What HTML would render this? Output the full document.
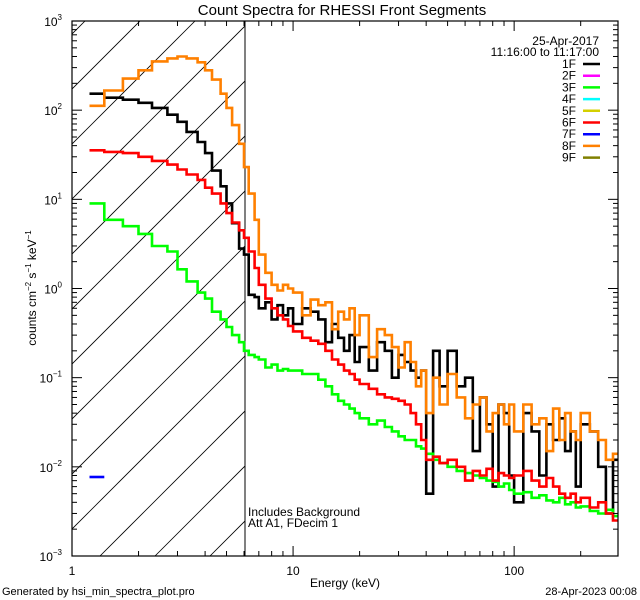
<!DOCTYPE html>
<html><head><meta charset="utf-8"><style>
html,body{margin:0;padding:0;background:#fff;width:640px;height:600px;overflow:hidden}
svg text{font-family:"Liberation Sans",sans-serif;fill:#000}
</style></head><body>
<svg id="chart" width="640" height="600" xmlns="http://www.w3.org/2000/svg">
<text x="342" y="15" font-size="15" text-anchor="middle">Count Spectra for RHESSI Front Segments</text>
<defs><clipPath id="pc"><rect x="72" y="21" width="546" height="535"/></clipPath>
<clipPath id="hc"><rect x="72" y="21" width="173" height="535"/></clipPath></defs>
<g id="hatch" clip-path="url(#hc)"></g>
<line x1="245" y1="21" x2="245" y2="556" stroke="#000" stroke-width="1"/>
<g id="series" clip-path="url(#pc)"></g>
<rect x="72" y="21" width="546" height="535" fill="none" stroke="#000" stroke-width="1.2"/>
<g id="axes"></g>
<text x="345" y="587" font-size="12" text-anchor="middle">Energy (keV)</text>
<text transform="translate(36,288) rotate(-90)" font-size="12" text-anchor="middle">counts cm<tspan font-size="8" dy="-5">−2</tspan><tspan dy="5"> s</tspan><tspan font-size="8" dy="-5">−1</tspan><tspan dy="5"> keV</tspan><tspan font-size="8" dy="-5">−1</tspan></text>
<text x="248" y="516" font-size="12">Includes Background</text>
<text x="248" y="527" font-size="12">Att A1, FDecim 1</text>
<text x="599" y="45" font-size="12" text-anchor="end">25-Apr-2017</text>
<text x="599" y="56" font-size="12" text-anchor="end">11:16:00 to 11:17:00</text>
<g id="legend"></g>
<text x="2" y="595" font-size="11">Generated by hsi_min_spectra_plot.pro</text>
<text x="637" y="595" font-size="11" text-anchor="end">28-Apr-2023 00:08</text>
</svg>
<script>
const energyEdges=[1.2,1.4,1.7,2.0,2.3,2.7,3.0,3.3,3.7,4.0,4.3,4.7,5.0,5.3,5.7,6.0,6.3,6.7,7.0,7.5,8,8.5,9,9.5,10,11,12,13,14,15,16,17,18,19,20,22,24,26,28,30,32,34,36,38,40,43,46,50,55,60,65,70,75,80,85,90,95,100,110,120,130,140,150,160,170,180,190,200,220,240,260,280,295];
const seg1F=[153,138,131,121,106,89,74,57,44,33,21,14,9,5.4,2.8,2.4,0.85,0.8,0.6,0.7,0.45,0.65,0.5,0.6,
0.4,0.6,0.55,0.45,0.25,0.4,0.28,0.2,0.3,0.15,0.22,0.12,0.25,0.2,0.1,0.18,0.15,0.12,0.1,0.12,
0.005,0.2,0.08,0.2,0.08,0.1,0.015,0.06,0.03,0.006,0.05,0.04,0.008,0.004,0.04,0.025,0.008,0.03,0.02,0.035,
0.015,0.025,0.006,0.03,0.025,0.01,0.003,0.012];
const seg3F=[9.0,5.9,5.0,4.1,3.0,2.6,1.64,1.2,0.9,0.77,0.55,0.45,0.37,0.3,0.25,0.2,0.18,0.17,0.16,0.13,0.14,0.12,0.125,0.12,
0.12,0.11,0.11,0.095,0.08,0.065,0.055,0.05,0.045,0.04,0.035,0.03,0.033,0.028,0.025,0.022,0.02,0.02,0.017,0.016,
0.014,0.012,0.011,0.01,0.009,0.0085,0.008,0.0075,0.007,0.0068,0.006,0.0065,0.0055,0.005,0.0052,0.0045,0.0048,0.0042,0.004,0.0045,
0.0038,0.004,0.0035,0.0036,0.0032,0.003,0.0033,0.0028];
const seg6F=[35.5,34,33,30,27,24.5,21.6,19,16.5,13.5,11.6,9,7,5.5,4.5,3.7,2.6,1.7,1.1,0.77,0.6,0.5,0.45,0.38,
0.33,0.28,0.26,0.24,0.2,0.16,0.14,0.12,0.11,0.095,0.085,0.075,0.065,0.06,0.058,0.055,0.05,0.04,0.03,0.02,
0.012,0.013,0.011,0.012,0.01,0.007,0.009,0.008,0.0095,0.007,0.0085,0.008,0.0075,0.008,0.009,0.007,0.006,0.0075,0.006,0.005,
0.0045,0.005,0.004,0.0045,0.0035,0.004,0.003,0.0025];
const seg7F=[0.0077];
const seg8F=[112,166,226,280,352,381,400,381,344,280,220,153,106,68,42,23,11.6,5.9,2.4,1.5,1.1,0.95,1.1,1.0,
0.9,0.5,0.75,0.65,0.7,0.35,0.55,0.45,0.6,0.3,0.5,0.17,0.35,0.3,0.22,0.13,0.25,0.15,0.08,0.12,
0.04,0.1,0.05,0.11,0.06,0.035,0.05,0.06,0.025,0.04,0.05,0.03,0.05,0.025,0.05,0.03,0.035,0.015,0.045,0.02,
0.04,0.025,0.02,0.04,0.025,0.02,0.012,0.014];
const legendLabels=["1F","2F","3F","4F","5F","6F","7F","8F","9F"];
const legendColors=["#000000","#ff00ff","#00ff00","#00ffff","#d4d000","#ff0000","#0000ff","#ff8000","#808000"];
const yTickExps=[-3,-2,-1,0,1,2,3];
const xTickLabels=[1,10,100];

const NS="http://www.w3.org/2000/svg";
const X0=72,X1=618,Y0=21,Y1=556;
const xMin=1,xMax=295,yMinExp=-3,yMaxExp=3;
function xs(e){return X0+(Math.log10(e)-Math.log10(xMin))/(Math.log10(xMax)-Math.log10(xMin))*(X1-X0);}
function ys(v){return Y1-(Math.log10(v)-yMinExp)/(yMaxExp-yMinExp)*(Y1-Y0);}
function mk(tag,attrs,parent){const el=document.createElementNS(NS,tag);for(const k in attrs)el.setAttribute(k,attrs[k]);parent.appendChild(el);return el;}

// hatch
const hatch=document.getElementById('hatch');
for(let c=656-55*12;c<=656+55*2;c+=55){
  const l=mk('line',{x1:c-Y1+600,y1:-600+Y1-(c-Y1+600-c)+0,x2:0,y2:0,stroke:'#000','stroke-width':0.8},hatch);
  // line x+y=c
  l.setAttribute('x1',c-600);l.setAttribute('y1',600);l.setAttribute('x2',c);l.setAttribute('y2',0);
  
  
}

// series
const sg=document.getElementById('series');
function drawSeries(vals,color,name){
  let d='';let prev=null;
  for(let i=0;i<vals.length;i++){
    const v=vals[i];if(v==null)continue;
    const xa=xs(energyEdges[i]),xb=xs(energyEdges[i+1]),y=ys(v);
    if(prev===null)d+='M'+xa.toFixed(1)+','+y.toFixed(1);else d+='L'+xa.toFixed(1)+','+y.toFixed(1);
    d+='L'+xb.toFixed(1)+','+y.toFixed(1);prev=y;
  }
  const p=mk('path',{d:d,fill:'none',stroke:color,'stroke-width':2.6,'stroke-linejoin':'miter'},sg);
  
  
}
drawSeries(seg1F,legendColors[0],'series-1f');
drawSeries(seg3F,legendColors[2],'series-3f');
drawSeries(seg6F,legendColors[5],'series-6f');
drawSeries(seg7F,legendColors[6],'series-7f');
drawSeries(seg8F,legendColors[7],'series-8f');

// axes ticks
const ax=document.getElementById('axes');
for(const e of yTickExps){
  for(let m=1;m<=9;m++){
    if(e===yMaxExp&&m>1)break;
    const y=ys(m*Math.pow(10,e));const len=m===1?10:5;
    const t1=mk('line',{x1:X0,y1:y,x2:X0+len,y2:y,stroke:'#000','stroke-width':1},ax);
    
    
    const t2=mk('line',{x1:X1,y1:y,x2:X1-len,y2:y,stroke:'#000','stroke-width':1},ax);
    
    
  }
  const tx=mk('text',{x:62,y:ys(Math.pow(10,e))+5,'font-size':12,'text-anchor':'end'},ax);
  
  
  tx.innerHTML='10<tspan font-size="8" dy="-6">'+(e<0?'−'+(-e):e)+'</tspan>';
}
for(let d=0;d<3;d++){
  for(let m=1;m<=9;m++){
    const e=m*Math.pow(10,d);if(e>xMax)break;
    const x=xs(e);const len=m===1?10:5;
    const a=mk('line',{x1:x,y1:Y1,x2:x,y2:Y1-len,stroke:'#000','stroke-width':1},ax);
    
    
    const b=mk('line',{x1:x,y1:Y0,x2:x,y2:Y0+len,stroke:'#000','stroke-width':1},ax);
    
    
  }
}
for(const v of xTickLabels){
  const t=mk('text',{x:xs(v),y:575,'font-size':12,'text-anchor':'middle'},ax);
  
  
  t.textContent=v;
}
// legend
const lg=document.getElementById('legend');
legendLabels.forEach((lab,i)=>{
  const y=64+i*11.7;
  const t=mk('text',{x:576,y:y+4,'font-size':12,'text-anchor':'end'},lg);
  
  
  t.textContent=lab;
  const l=mk('line',{x1:583,y1:y,x2:600,y2:y,stroke:legendColors[i],'stroke-width':2.5},lg);
  
  
});
</script>
</body></html>
